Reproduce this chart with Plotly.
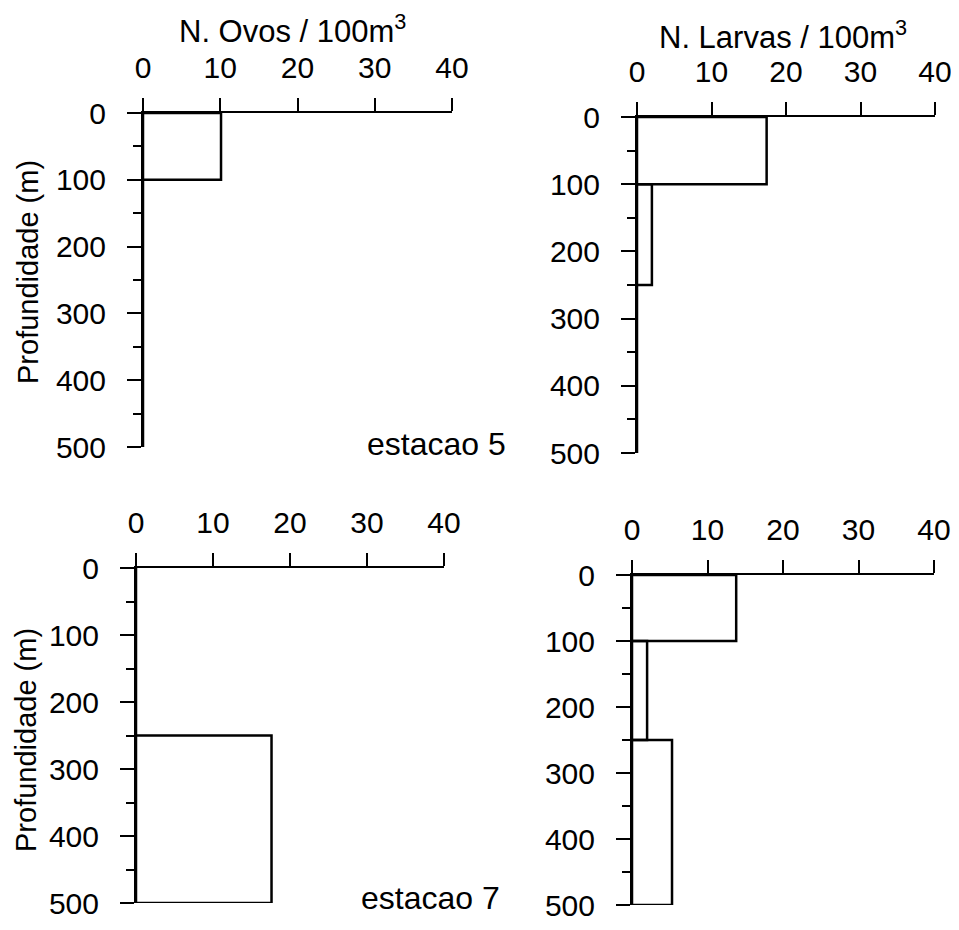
import plotly.graph_objects as go

# depth intervals (m)
depth_top = [0, 100, 250]
depth_bottom = [100, 250, 500]

# abundance per interval
ovos_est5 = [10.1, 0, 0]
larvas_est5 = [17.4, 2.0, 0]
ovos_est7 = [0, 0, 17.6]
larvas_est7 = [13.8, 2.0, 5.3]

x_ticks = [0, 10, 20, 30, 40]
y_ticks = [0, 100, 200, 300, 400, 500]

# the page body keeps an 8px margin on every side; keep the figure inside it
OFF = 8
W, H = 959 - 2 * OFF, 930 - 2 * OFF
FONT = "Liberation Sans, Arial, Helvetica, sans-serif"

# panel boxes in window pixels: (x0, x40, y0, y500)
panels = [
    (ovos_est5, 143, 452, 113, 447),
    (larvas_est5, 637, 935, 117, 453),
    (ovos_est7, 136, 444, 568, 903),
    (larvas_est7, 632, 934, 575, 905),
]


def px(x):
    return (x - OFF) / W


def py(y):
    return 1 - (y - OFF) / H


fig = go.Figure()
mids = [(a + b) / 2 for a, b in zip(depth_top, depth_bottom)]
thick = [b - a for a, b in zip(depth_top, depth_bottom)]

for i, (vals, x0, x1, y0, y1) in enumerate(panels, start=1):
    xa = "x" if i == 1 else f"x{i}"
    ya = "y" if i == 1 else f"y{i}"
    fig.add_trace(go.Bar(
        x=vals, y=mids, width=thick, base=0, orientation="h",
        marker=dict(color="rgba(0,0,0,0)", line=dict(color="black", width=2.5)),
        xaxis=xa, yaxis=ya, showlegend=False, hoverinfo="skip",
    ))
    xkey = "xaxis" if i == 1 else f"xaxis{i}"
    ykey = "yaxis" if i == 1 else f"yaxis{i}"
    fig.update_layout({
        xkey: dict(
            domain=[px(x0), px(x1)], anchor=ya, side="top", automargin=False,
            range=[0, 40], tickvals=x_ticks, showgrid=False, zeroline=False,
            showline=True, linecolor="black", linewidth=2,
            ticks="outside", ticklen=13, tickwidth=2, tickcolor="black",
            ticklabelstandoff=8, ticklabeloverflow="allow",
            tickfont=dict(family=FONT, size=30, color="black"),
        ),
        ykey: dict(
            domain=[py(y1), py(y0)], anchor=xa, automargin=False,
            range=[500, 0], tickvals=y_ticks, showgrid=False, zeroline=False,
            showline=True, linecolor="black", linewidth=2,
            ticks="outside", ticklen=14, tickwidth=2, tickcolor="black",
            ticklabelstandoff=15, ticklabeloverflow="allow",
            minor=dict(dtick=50, ticks="outside", ticklen=8, tickwidth=2,
                       tickcolor="black", showgrid=False),
            tickfont=dict(family=FONT, size=30, color="black"),
        ),
    })


def ann(text, x, y, size=31, angle=0, xanchor="center"):
    fig.add_annotation(
        text=text, x=px(x), y=py(y), xref="paper", yref="paper",
        showarrow=False, textangle=angle, xanchor=xanchor, yanchor="middle",
        font=dict(family=FONT, size=size, color="black"),
    )


ann("N. Ovos / 100m<sup>3</sup>", 292, 29)
ann("N. Larvas / 100m<sup>3</sup>", 783, 35)
ann("Profundidade (m)", 28, 272, size=29, angle=-90)
ann("Profundidade (m)", 26, 740, size=29, angle=-90)
ann("estacao 5", 508, 444, size=32, xanchor="right")
ann("estacao 7", 502, 898, size=32, xanchor="right")

fig.update_layout(
    width=W, height=H,
    margin=dict(l=0, r=0, t=0, b=0, autoexpand=False),
    paper_bgcolor="white", plot_bgcolor="white",
    barmode="overlay",
)

fig.write_html("out.html")
